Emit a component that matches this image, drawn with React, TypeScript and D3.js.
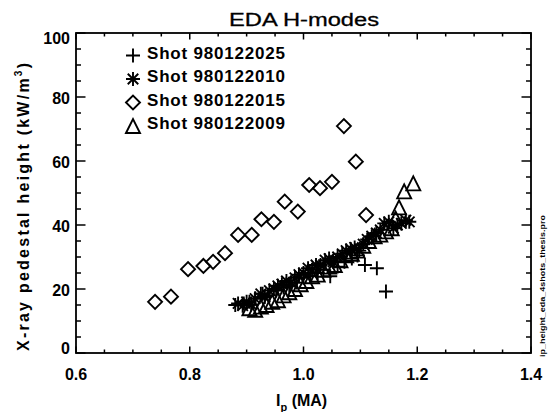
import React from 'react';
import * as d3 from 'd3';

const W = 549;
const H = 412;

const titleText = 'EDA H-modes';
const xTicks = [0.6, 0.8, 1.0, 1.2, 1.4];
const xTickLabels = ['0.6', '0.8', '1.0', '1.2', '1.4'];
const yTicks = [0, 20, 40, 60, 80, 100];
const yTickLabels = ['0', '20', '40', '60', '80', '100'];
const seriesNames = ['Shot 980122025', 'Shot 980122010', 'Shot 980122015', 'Shot 980122009'];
const seriesSymbols = ['plus', 'asterisk', 'diamond', 'triangle'];

// Shot 980122025 (plus)
const shot025Ip = [0.880, 0.895, 0.905, 0.915, 0.928, 0.940, 0.952, 0.965, 0.975, 0.988, 1.000, 1.012, 1.025, 1.035, 1.047, 1.060, 1.072, 1.085, 1.095, 1.108, 1.129, 1.145];
const shot025H = [15.0, 15.5, 16.0, 17.0, 18.5, 18.0, 19.5, 20.5, 21.0, 22.0, 23.5, 24.0, 25.0, 26.0, 24.0, 27.0, 28.5, 29.5, 30.5, 27.5, 26.5, 19.2];

// Shot 980122010 (asterisk)
const shot010Ip = [0.885, 0.893, 0.900, 0.908, 0.915, 0.925, 0.932, 0.940, 0.948, 0.955, 0.962, 0.970, 0.978, 0.985, 0.992, 1.000, 1.008, 1.015, 1.022, 1.030, 1.038, 1.045, 1.052, 1.060, 1.068, 1.075, 1.083, 1.090, 1.098, 1.105, 1.112, 1.120, 1.128, 1.135, 1.142, 1.150, 1.158, 1.165, 1.172, 1.180, 1.186];
const shot010H = [15.5, 14.8, 16.0, 15.2, 17.0, 18.5, 17.5, 19.5, 20.0, 21.0, 21.5, 22.5, 22.0, 23.5, 24.5, 25.0, 26.5, 26.0, 27.5, 27.5, 29.0, 29.5, 28.5, 30.0, 31.0, 32.0, 32.5, 33.0, 32.0, 34.0, 35.5, 36.5, 37.5, 38.5, 40.5, 41.0, 39.0, 40.0, 40.5, 41.5, 41.0];

// Shot 980122015 (diamond)
const shot015Ip = [0.739, 0.767, 0.797, 0.824, 0.841, 0.862, 0.885, 0.909, 0.926, 0.948, 0.967, 0.990, 1.010, 1.029, 1.050, 1.071, 1.092, 1.110];
const shot015H = [16.0, 17.6, 26.2, 27.2, 28.5, 31.2, 36.9, 36.9, 41.8, 41.0, 47.3, 44.2, 52.5, 51.5, 53.5, 70.9, 59.8, 43.1];

// Shot 980122009 (triangle)
const shot009Ip = [0.905, 0.915, 0.925, 0.935, 0.945, 0.955, 0.965, 0.975, 0.985, 0.995, 1.005, 1.015, 1.025, 1.035, 1.045, 1.055, 1.065, 1.075, 1.085, 1.095, 1.105, 1.115, 1.125, 1.135, 1.145, 1.155, 1.162, 1.168, 1.177, 1.193];
const shot009H = [14.0, 13.5, 14.5, 15.0, 16.0, 16.5, 18.0, 19.0, 20.0, 21.5, 22.5, 24.0, 24.5, 26.0, 27.0, 27.5, 29.0, 30.5, 31.0, 32.0, 33.5, 35.0, 36.5, 37.0, 38.0, 39.0, 42.0, 45.5, 50.5, 53.0];

const seriesIp = [shot025Ip, shot010Ip, shot015Ip, shot009Ip];
const seriesH = [shot025H, shot010H, shot015H, shot009H];

const FONT = '"Liberation Sans", Arial, Helvetica, sans-serif';

function markerPath(kind: string, cx: number, cy: number, r: number): string {
  const p = d3.path();
  if (kind === 'plus' || kind === 'asterisk') {
    p.moveTo(cx - r, cy); p.lineTo(cx + r, cy);
    p.moveTo(cx, cy - r); p.lineTo(cx, cy + r);
    if (kind === 'asterisk') {
      const d = r * 0.75;
      p.moveTo(cx - d, cy - d); p.lineTo(cx + d, cy + d);
      p.moveTo(cx - d, cy + d); p.lineTo(cx + d, cy - d);
    }
  } else if (kind === 'diamond') {
    p.moveTo(cx - r, cy); p.lineTo(cx, cy - r); p.lineTo(cx + r, cy); p.lineTo(cx, cy + r); p.closePath();
  } else {
    p.moveTo(cx - r, cy + r); p.lineTo(cx, cy - r); p.lineTo(cx + r, cy + r); p.closePath();
  }
  return p.toString();
}

function yLabelShift(v: number): number {
  if (v === 100) return 11;
  if (v === 0) return 1;
  return 6.5;
}

export default function App() {
  const x = d3.scaleLinear().domain([0.6, 1.4]).range([76, 531]);
  const y = d3.scaleLinear().domain([0, 100]).range([353, 33]);
  const [x0, x1] = x.range();
  const [y0, y1] = y.range();
  const xMinor = d3.range(0.6, 1.4001, 0.05).filter((v) => Math.abs(Math.round(v / 0.2) * 0.2 - v) > 1e-6);
  const yMinor = d3.range(0, 100.001, 5).filter((v) => v % 20 !== 0);
  const xMajLen = 6.5, xMinLen = 3.5, yMajLen = 9.5, yMinLen = 5;

  return (
    <svg width={W} height={H} style={{ position: 'absolute', left: 0, top: 0, background: '#fff' }}
      xmlns="http://www.w3.org/2000/svg">
      <rect x={0} y={0} width={W} height={H} fill="#fff" />
      {/* title */}
      <text x={304} y={26} textAnchor="middle" fontFamily={FONT} fontSize={18} fill="#000"
        stroke="#000" strokeWidth={0.3} textLength={150} lengthAdjust="spacingAndGlyphs">{titleText}</text>

      {/* frame */}
      <rect x={x0} y={y1} width={x1 - x0} height={y0 - y1} fill="none" stroke="#000" strokeWidth={1.8} />

      {/* ticks */}
      <g stroke="#000" strokeWidth={1.5}>
        {xTicks.map((v) => (
          <g key={'xt' + v}>
            <line x1={x(v)} x2={x(v)} y1={y0} y2={y0 - xMajLen} />
            <line x1={x(v)} x2={x(v)} y1={y1} y2={y1 + xMajLen} />
          </g>
        ))}
        {xMinor.map((v) => (
          <g key={'xm' + v}>
            <line x1={x(v)} x2={x(v)} y1={y0} y2={y0 - xMinLen} />
            <line x1={x(v)} x2={x(v)} y1={y1} y2={y1 + xMinLen} />
          </g>
        ))}
        {yTicks.map((v) => (
          <g key={'yt' + v}>
            <line x1={x0} x2={x0 + yMajLen} y1={y(v)} y2={y(v)} />
            <line x1={x1} x2={x1 - yMajLen} y1={y(v)} y2={y(v)} />
          </g>
        ))}
        {yMinor.map((v) => (
          <g key={'ym' + v}>
            <line x1={x0} x2={x0 + yMinLen} y1={y(v)} y2={y(v)} />
            <line x1={x1} x2={x1 - yMinLen} y1={y(v)} y2={y(v)} />
          </g>
        ))}
      </g>

      {/* tick labels */}
      <g fontFamily={FONT} fontSize={16} fontWeight="bold" fill="#000">
        {xTicks.map((v, i) => (
          <text key={'xl' + v} x={x(v)} y={380} textAnchor="middle">{xTickLabels[i]}</text>
        ))}
        {yTicks.map((v, i) => (
          <text key={'yl' + v} x={70} y={y(v) + yLabelShift(v)} textAnchor="end">{yTickLabels[i]}</text>
        ))}
      </g>

      {/* axis titles */}
      <text x={276} y={406} fontFamily={FONT} fontSize={16} fontWeight="bold" fill="#000">
        I<tspan fontSize={11} dy={5}>p</tspan><tspan dy={-5}> (MA)</tspan>
      </text>
      <text transform="translate(29,207) rotate(-90)" textAnchor="middle" fontFamily={FONT} fontSize={16}
        fontWeight="bold" fill="#000" textLength={288} lengthAdjust="spacing">
        X-ray pedestal height (kW/m<tspan fontSize={10} dy={-7}>3</tspan><tspan dy={7}>)</tspan>
      </text>

      {/* file name */}
      <text transform="translate(545,286) rotate(-90)" textAnchor="middle" fontFamily={FONT} fontSize={7.5}
        fontWeight="bold" fill="#000" textLength={142} lengthAdjust="spacingAndGlyphs">ip_height_eda_4shots_thesis.pro</text>

      {/* data */}
      <g fill="none" stroke="#000" strokeWidth={1.9} strokeLinejoin="miter">
        {seriesIp.map((xs, si) => (
          <g key={'s' + si}>
            {xs.map((xv, i) => (
              <path key={i} d={markerPath(seriesSymbols[si], x(xv), y(seriesH[si][i]), 7)} />
            ))}
          </g>
        ))}
      </g>

      {/* legend */}
      <g>
        {seriesNames.map((name, i) => {
          const by = 58.5 + i * 23.5;
          return (
            <g key={'lg' + i}>
              <path d={markerPath(seriesSymbols[i], 133, by - 3, 7)} fill="none" stroke="#000" strokeWidth={1.9} />
              <text x={147} y={by} fontFamily={FONT} fontSize={17} fontWeight="bold" fill="#000"
                textLength={138} lengthAdjust="spacing">{name}</text>
            </g>
          );
        })}
      </g>
    </svg>
  );
}
